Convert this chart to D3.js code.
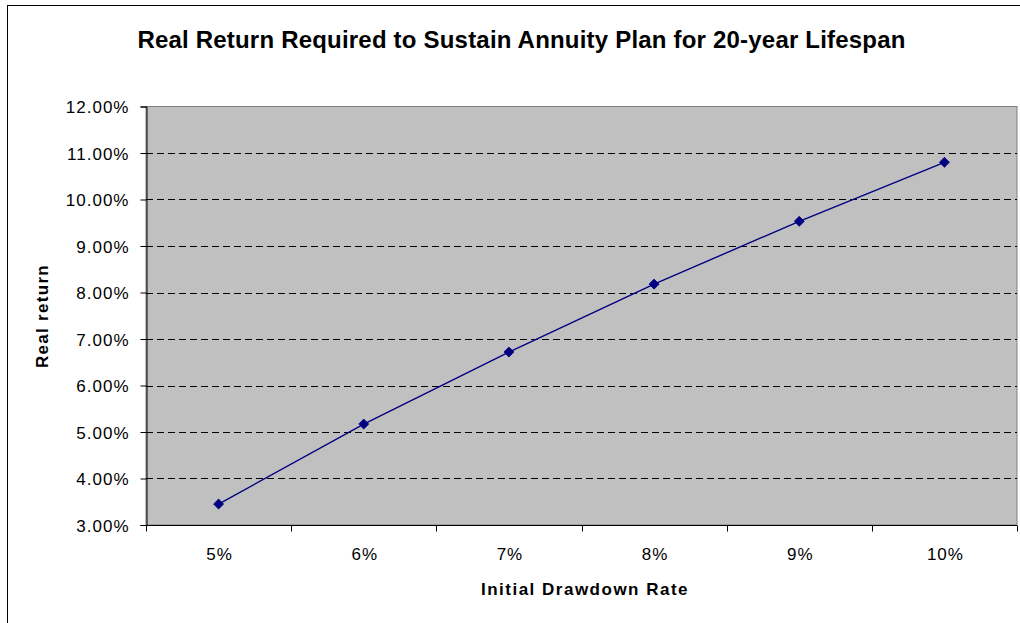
<!DOCTYPE html>
<html>
<head>
<meta charset="utf-8">
<script src="https://cdn.jsdelivr.net/npm/d3@7"></script>
<style>
  html, body { margin: 0; padding: 0; background: #fff; }
  svg { display: block; font-family: "Liberation Sans", Arial, sans-serif; }
</style>
</head>
<body>
<svg id="chart" width="1020" height="623"></svg>
<script>
// Initial drawdown rates and the real return each one needs to last 20 years
const drawdownRates = ["5%", "6%", "7%", "8%", "9%", "10%"];
const realReturns = [0.0345, 0.0517, 0.0672, 0.0818, 0.0953, 0.1080];
const yTicks = [0.03, 0.04, 0.05, 0.06, 0.07, 0.08, 0.09, 0.10, 0.11, 0.12];

const svg = d3.select("#chart");
const W = 1020, H = 623;
const plot = { left: 146, right: 1017, top: 106.5, bottom: 525 };

// outer chart frame
svg.append("rect")
  .attr("x", 7.5).attr("y", 5.5)
  .attr("width", W + 10).attr("height", H + 10)
  .attr("fill", "#fff").attr("stroke", "#000").attr("stroke-width", 1);

const x = d3.scaleBand()
  .domain(drawdownRates)
  .range([plot.left, plot.right]);

const y = d3.scaleLinear()
  .domain([0.03, 0.12])
  .range([plot.bottom, plot.top]);

// plot area background
svg.append("rect")
  .attr("x", plot.left).attr("y", plot.top)
  .attr("width", plot.right - plot.left)
  .attr("height", plot.bottom - plot.top)
  .attr("fill", "#c0c0c0")
  .attr("stroke", "#808080").attr("stroke-width", 1);

// dashed horizontal gridlines
svg.append("g")
  .selectAll("line")
  .data(yTicks.filter(t => t > 0.03 && t < 0.12))
  .join("line")
  .attr("x1", plot.left).attr("x2", plot.right)
  .attr("y1", d => Math.round(y(d)) + 0.5).attr("y2", d => Math.round(y(d)) + 0.5)
  .attr("stroke", "#000").attr("stroke-width", 1)
  .attr("stroke-dasharray", "7,4");

// y axis
const yAxis = svg.append("g")
  .attr("transform", `translate(${plot.left + 0.5},0)`)
  .call(d3.axisLeft(y).tickValues(yTicks).tickFormat(d3.format(".2%")).tickSize(6).tickPadding(11));
yAxis.select(".domain").attr("stroke", "#000");
yAxis.selectAll(".tick line").attr("stroke", "#000");
yAxis.selectAll("text")
  .attr("font-size", 17).attr("fill", "#000")
  .attr("letter-spacing", "1px")
  .attr("dy", "0.36em")
  .attr("font-family", "'Liberation Sans', Arial, sans-serif");

// x axis: tick marks sit on the category boundaries
const xAxis = svg.append("g")
  .attr("transform", `translate(0,${plot.bottom + 0.5})`);
xAxis.append("line")
  .attr("x1", plot.left).attr("x2", plot.right)
  .attr("stroke", "#000");
const bounds = drawdownRates.map(d => x(d)).concat([x(drawdownRates[drawdownRates.length - 1]) + x.bandwidth()]);
xAxis.selectAll("line.tk")
  .data(bounds)
  .join("line")
  .attr("class", "tk")
  .attr("x1", d => Math.round(d) + 0.5).attr("x2", d => Math.round(d) + 0.5)
  .attr("y1", 0).attr("y2", 6)
  .attr("stroke", "#000");
xAxis.selectAll("text")
  .data(drawdownRates)
  .join("text")
  .attr("x", d => x(d) + x.bandwidth() / 2 + 1)
  .attr("y", 34)
  .attr("text-anchor", "middle")
  .attr("font-size", 17)
  .attr("letter-spacing", "1px")
  .attr("fill", "#000")
  .text(d => d);

// series line
const pts = drawdownRates.map((d, i) => [x(d) + x.bandwidth() / 2, y(realReturns[i])]);
svg.append("path")
  .attr("d", d3.line()(pts))
  .attr("fill", "none")
  .attr("stroke", "#000080")
  .attr("stroke-width", 1.4);

// diamond markers
svg.append("g")
  .selectAll("path")
  .data(pts)
  .join("path")
  .attr("transform", d => `translate(${d[0]},${d[1]})`)
  .attr("d", d3.symbol().type(d3.symbolDiamond2).size(64))
  .attr("fill", "#000080")
  .attr("stroke", "#000080")
  .attr("stroke-width", 0.8);

// title
svg.append("text")
  .attr("x", 521.5).attr("y", 48)
  .attr("text-anchor", "middle")
  .attr("font-size", 24).attr("font-weight", "bold")
  .attr("letter-spacing", "0.2px")
  .attr("fill", "#000")
  .text("Real Return Required to Sustain Annuity Plan for 20-year Lifespan");

// axis titles
svg.append("text")
  .attr("x", 585).attr("y", 595)
  .attr("text-anchor", "middle")
  .attr("font-size", 17).attr("font-weight", "bold")
  .attr("letter-spacing", "1.5px")
  .attr("fill", "#000")
  .text("Initial Drawdown Rate");

svg.append("text")
  .attr("transform", "translate(48,316) rotate(-90)")
  .attr("text-anchor", "middle")
  .attr("font-size", 17).attr("font-weight", "bold")
  .attr("letter-spacing", "1.3px")
  .attr("fill", "#000")
  .text("Real return");
</script>
</body>
</html>
